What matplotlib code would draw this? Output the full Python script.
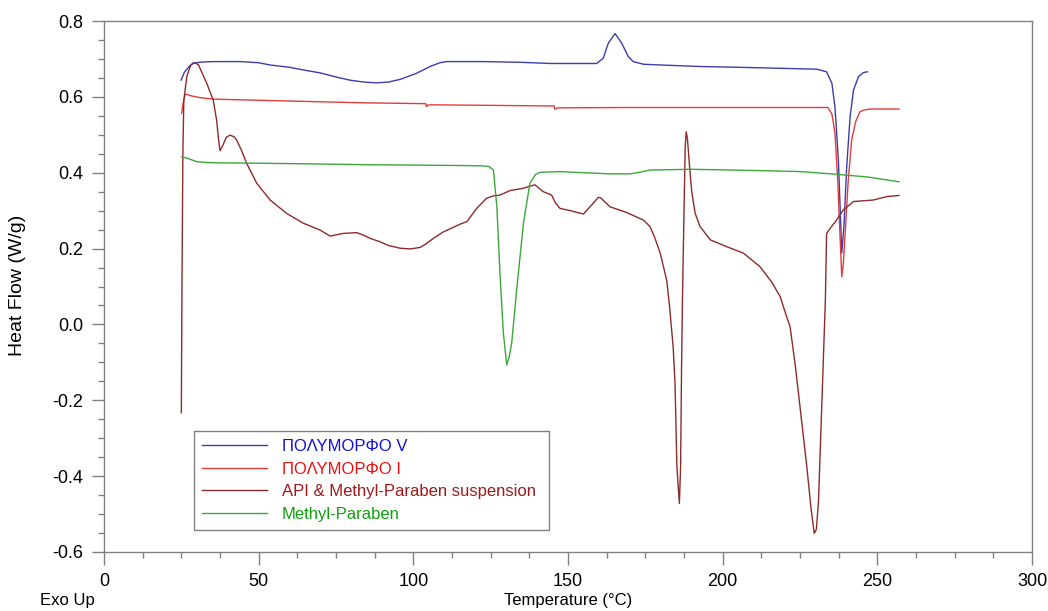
import matplotlib
matplotlib.use("Agg")
import matplotlib.pyplot as plt
from matplotlib.ticker import MultipleLocator, FormatStrFormatter

plt.rcParams['font.family'] = ['Liberation Sans', 'DejaVu Sans']
plt.rcParams['axes.unicode_minus'] = False

# ---- data ----
labels = ["ΠΟΛΥΜΟΡΦΟ V", "ΠΟΛΥΜΟΡΦΟ I",
          "API & Methyl-Paraben suspension", "Methyl-Paraben"]

t_v = [24.9, 26, 27.5, 28.8, 32, 36, 40, 44, 50, 53.7, 60, 64.4, 70, 75.2, 79.5, 84,
       88, 92, 95.7, 101, 105.4, 108.6, 110.8, 122.6, 135, 144.2, 152, 159.3, 161.4,
       163, 165.2, 167.4, 169.5, 171.1, 174.4, 180, 192.7, 205, 215, 230.4, 233.6,
       235.3, 236.3, 237.4, 238.2, 238.5, 239.2, 240.1, 241.2, 242.3, 243.9, 245.5, 246.8]
y_v = [0.644, 0.665, 0.680, 0.689, 0.692, 0.693, 0.693, 0.693, 0.690, 0.684, 0.678, 0.671,
       0.663, 0.652, 0.644, 0.639, 0.637, 0.639, 0.646, 0.662, 0.680, 0.690, 0.693, 0.693,
       0.691, 0.688, 0.688, 0.688, 0.702, 0.741, 0.767, 0.741, 0.706, 0.693, 0.686, 0.684,
       0.680, 0.678, 0.676, 0.673, 0.666, 0.636, 0.574, 0.434, 0.258, 0.188, 0.258, 0.416,
       0.548, 0.618, 0.653, 0.664, 0.666]

t_i = [25.1, 25.6, 26.2, 26.7, 28, 31, 35.3, 45, 60, 75, 86, 95.7, 104, 104.3, 104.6,
       105.5, 120, 144, 145.5, 145.8, 146.3, 147, 170, 192.7, 215, 234, 235.3, 236.3,
       237.2, 237.9, 238.5, 239, 239.6, 240.6, 241.7, 243, 244.4, 246, 247.7, 257]
y_i = [0.557, 0.585, 0.605, 0.607, 0.603, 0.598, 0.594, 0.592, 0.589, 0.586, 0.584, 0.583,
       0.582, 0.574, 0.578, 0.579, 0.578, 0.576, 0.576, 0.567, 0.570, 0.571, 0.572, 0.572,
       0.572, 0.572, 0.555, 0.505, 0.38, 0.241, 0.126, 0.16, 0.241, 0.38, 0.486, 0.535,
       0.561, 0.566, 0.568, 0.568]

t_s = [25.0, 25.2, 25.5, 25.8, 26.8, 28.0, 29.2, 30.5, 33.2, 35.3, 36.4, 37.0, 37.5, 38.3,
       39.5, 40.7, 42.0, 42.9, 44.5, 46.1, 49.4, 53.7, 59, 64.4, 69.8, 73.1, 77.4, 81.7,
       84, 86, 89.2, 92, 95.7, 99, 102.2, 104, 106.5, 109.5, 112.9, 115, 117.3, 120.5,
       123.7, 126, 128, 131.3, 135.6, 137.5, 139.3, 140.5, 142, 144.7, 146, 147.4, 150.7,
       155, 157.1, 159.8, 160.5, 163.6, 169, 174.4, 176.5, 178, 179.8, 181.9, 182.8, 184,
       184.6, 185.2, 186, 186.4, 186.7, 187.0, 187.5, 187.9, 188.2, 188.6, 189.4, 190,
       191.1, 192.7, 196, 201.3, 206.7, 212.1, 216, 218.6, 220.7, 221.8, 223.5, 225, 227.2,
       228.5, 229.6, 230.3, 231, 232.1, 233.2, 233.6, 235.2, 236.8, 239, 242.3, 248.7,
       253, 257]
y_s = [-0.233, 0.10, 0.45, 0.59, 0.655, 0.683, 0.690, 0.685, 0.636, 0.592, 0.539, 0.49,
       0.458, 0.47, 0.493, 0.499, 0.495, 0.486, 0.458, 0.425, 0.372, 0.328, 0.293, 0.267,
       0.249, 0.233, 0.240, 0.242, 0.235, 0.227, 0.218, 0.208, 0.201, 0.199, 0.203, 0.212,
       0.227, 0.243, 0.256, 0.264, 0.271, 0.306, 0.333, 0.339, 0.341, 0.353, 0.359, 0.364,
       0.368, 0.36, 0.350, 0.341, 0.32, 0.306, 0.300, 0.291, 0.310, 0.335, 0.334, 0.310,
       0.295, 0.275, 0.258, 0.23, 0.188, 0.117, 0.05, -0.06, -0.155, -0.375, -0.472,
       -0.375, -0.12, 0.064, 0.3, 0.47, 0.508, 0.49, 0.407, 0.35, 0.293, 0.258, 0.223,
       0.205, 0.188, 0.152, 0.11, 0.073, 0.020, -0.006, -0.11, -0.217, -0.375, -0.48,
       -0.551, -0.54, -0.463, -0.199, 0.064, 0.240, 0.258, 0.275, 0.302, 0.324, 0.328,
       0.337, 0.340]

t_m = [25.1, 27, 30, 33, 37.5, 50, 70, 86, 100, 115, 122.6, 124.5, 125.9, 127, 128, 129.1,
       130.2, 131, 131.8, 133.4, 135.6, 137.7, 139.5, 141, 147.4, 155, 163.6, 170, 173,
       176.5, 190, 203.4, 215, 225, 235, 246.6, 257]
y_m = [0.442, 0.438, 0.429, 0.427, 0.426, 0.425, 0.423, 0.421, 0.420, 0.419, 0.418, 0.416,
       0.407, 0.31, 0.136, -0.023, -0.107, -0.085, -0.049, 0.091, 0.267, 0.373, 0.395,
       0.401, 0.403, 0.400, 0.397, 0.397, 0.401, 0.407, 0.409, 0.407, 0.405, 0.403, 0.397,
       0.389, 0.376]

line_colors = ["#3c3cae", "#e23c3c", "#8e2a2a", "#3ca63c"]
text_colors = ["#1010e0", "#f01010", "#a01818", "#10a010"]

# ---- figure ----
fig = plt.figure(figsize=(10.48, 6.11), dpi=100)
ax = fig.add_axes([104 / 1048, 59 / 611, 928 / 1048, 531 / 611])

series = [(t_v, y_v), (t_i, y_i), (t_s, y_s), (t_m, y_m)]
for (tx, ty), c, lab in zip(series, line_colors, labels):
    ax.plot(tx, ty, color=c, lw=1.0, label=lab)

ax.set_xlim(0, 300)
ax.set_ylim(-0.6, 0.8)
ax.xaxis.set_major_locator(MultipleLocator(50))
ax.xaxis.set_minor_locator(MultipleLocator(12.5))
ax.yaxis.set_major_locator(MultipleLocator(0.2))
ax.yaxis.set_minor_locator(MultipleLocator(0.05))
ax.yaxis.set_major_formatter(FormatStrFormatter('%.1f'))
ax.tick_params(which='major', direction='out', length=9, width=1, color='#808080',
               labelsize=13, pad=6)
ax.tick_params(which='minor', direction='out', length=4, width=1, color='#808080')
for s in ax.spines.values():
    s.set_color('#808080')
    s.set_linewidth(1)

fig.text(18 / 1048, 1 - 285 / 611, "Heat Flow (W/g)", rotation=90, fontsize=14,
         ha='center', va='center')
fig.text(568 / 1048, 1 - 601 / 611, "Temperature (°C)", fontsize=12,
         ha='center', va='center')
fig.text(40 / 1048, 1 - 601 / 611, "Exo Up", fontsize=12, ha='left', va='center')

leg = ax.legend(loc='lower left', bbox_to_anchor=(0.097, 0.0414, 0.3825, 0.192),
                mode='expand', borderaxespad=0, fontsize=12, fancybox=False,
                edgecolor='#808080', framealpha=1, handlelength=3.9,
                handletextpad=0.85, labelspacing=0.45, borderpad=0.5)
leg.get_frame().set_linewidth(1)
for txt, c in zip(leg.get_texts(), text_colors):
    txt.set_color(c)

fig.savefig("out.png", dpi=100)
